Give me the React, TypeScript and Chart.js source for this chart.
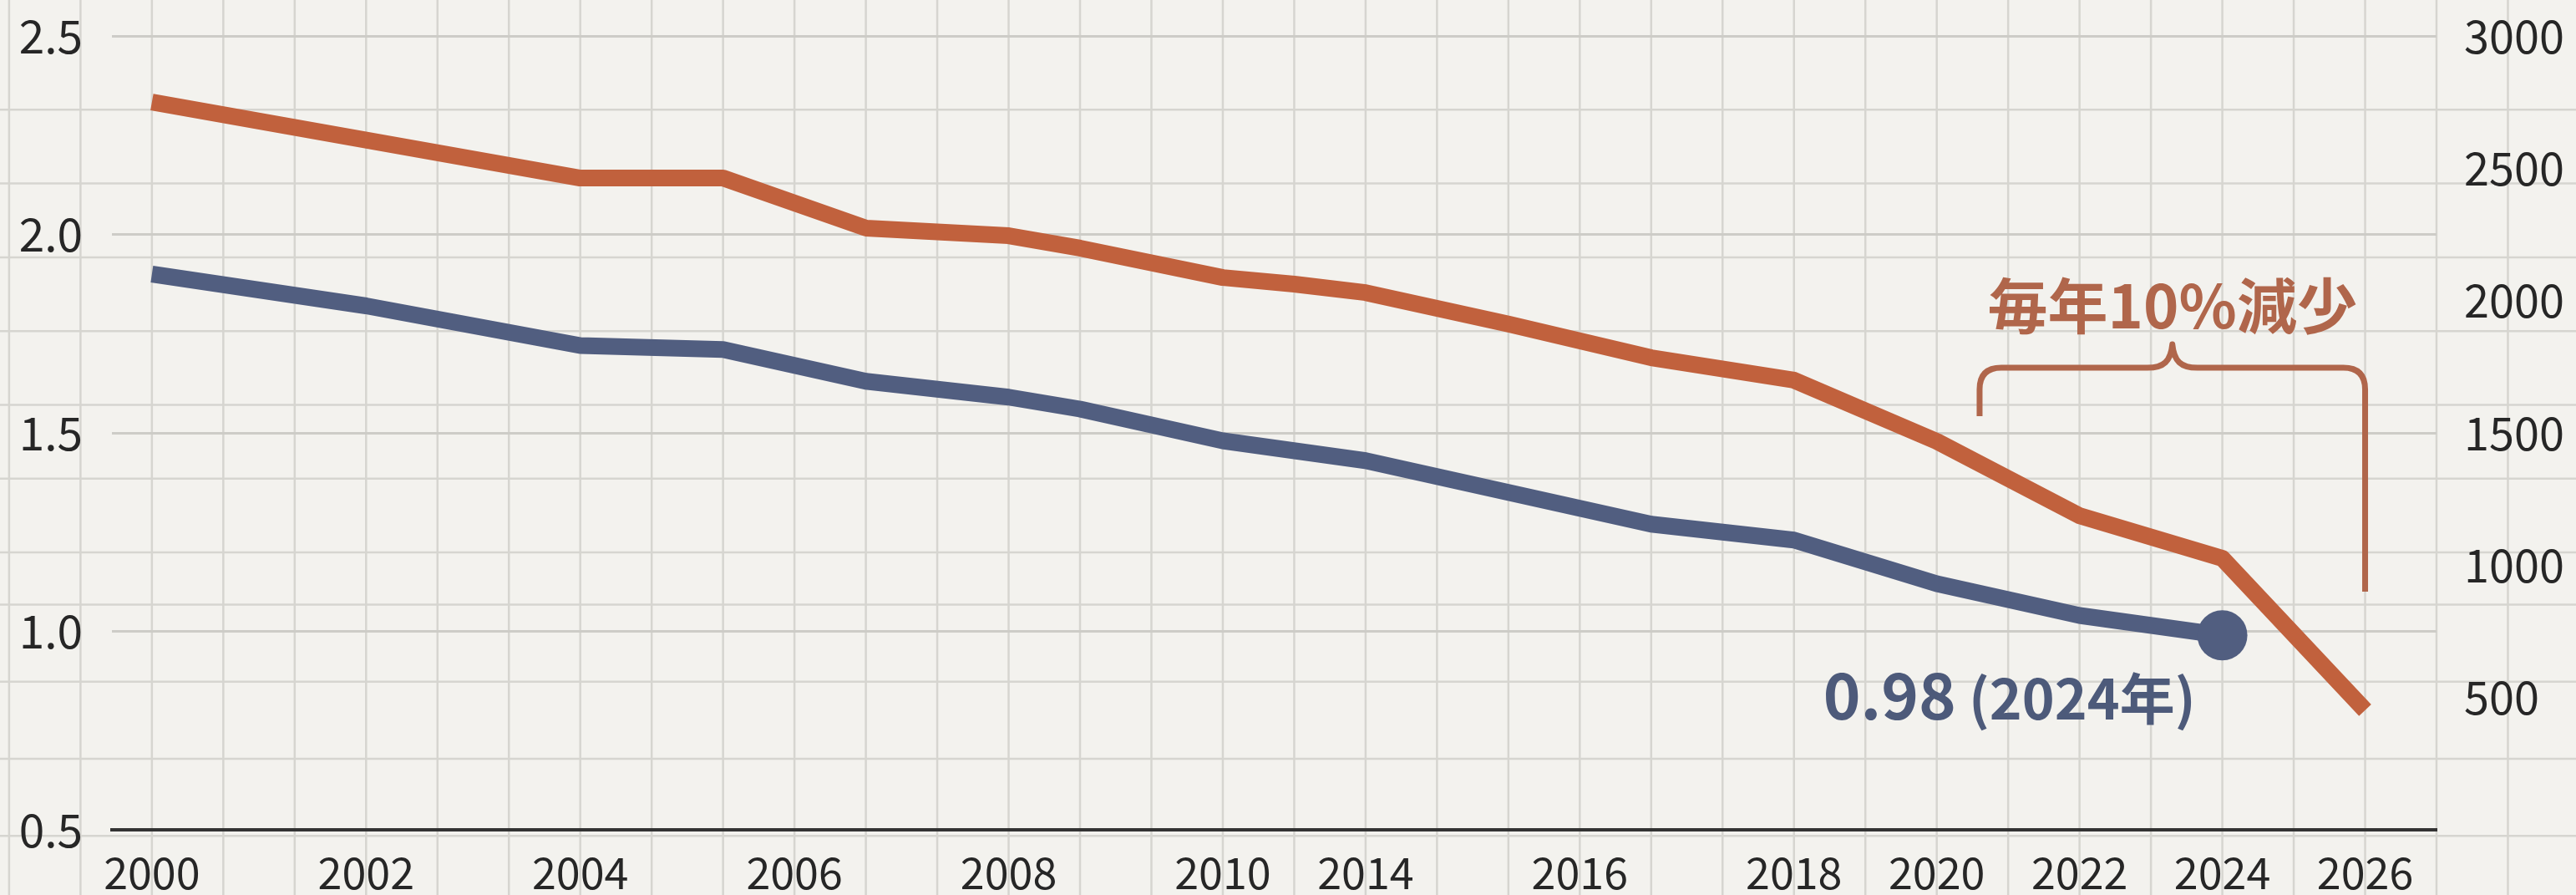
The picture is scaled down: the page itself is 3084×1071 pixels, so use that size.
import React, { useEffect, useRef } from 'react';
import { Chart, registerables } from 'chart.js';

Chart.register(...registerables);

// ---- Data ----
// x-axis: grid columns of the illustration; tick labels sit on some columns
const xTickLabels = ['2000', '2002', '2004', '2006', '2008', '2010', '2014', '2016', '2018', '2020', '2022', '2024', '2026'];
const xTickSlots = [0, 3, 6, 9, 12, 15, 17, 20, 23, 25, 27, 29, 31];

// orange series (right axis)
const countSlots = [0, 6, 8, 10, 12, 13, 15, 16, 17, 19, 21, 23, 25, 27, 29, 31];
const countValues = [2750, 2463, 2463, 2274, 2245, 2198, 2087, 2062, 2030, 1911, 1784, 1699, 1468, 1187, 1026, 452];

// blue series (left axis)
const rateSlots = [0, 3, 6, 8, 10, 12, 13, 15, 17, 19, 21, 23, 25, 27, 29];
const rateValues = [1.90, 1.82, 1.72, 1.71, 1.63, 1.59, 1.56, 1.48, 1.43, 1.35, 1.27, 1.23, 1.12, 1.04, 0.99];

const leftTicks = { min: 0.5, max: 2.5, step: 0.5 };
const rightTicks = { min: 0, max: 3000, step: 500 };

const rateLabelMain = '0.98';
const rateLabelSub = ' (2024年)';
const dropLabel = '毎年10%減少';
const braceFromSlot = 25.6;
const braceToSlot = 31;
const braceLevel = 1746;
const braceLeftEnd = 1563;
const braceRightEnd = 900;

const W = 3084;
const H = 1071;
const FONT = '"Noto Sans CJK JP", "Noto Sans", sans-serif';
const ORANGE = '#c1613d';
const BLUE = '#515e80';
const BRACE = '#b0664b';
const TEXT = '#262626';

const paperPlugin = {
  id: 'paper',
  beforeDraw(chart: any) {
    const { ctx } = chart;
    const xs = chart.scales.x;
    const ys = chart.scales.y;
    ctx.save();
    ctx.fillStyle = '#f3f2ee';
    ctx.fillRect(0, 0, W, H);
    ctx.strokeStyle = '#d6d5d0';
    ctx.lineWidth = 2.5;
    for (let k = -4; k <= 40; k++) {
      const x = xs.getPixelForValue(k);
      if (x < -5 || x > W + 5) continue;
      ctx.beginPath();
      ctx.moveTo(x, 0);
      ctx.lineTo(x, H);
      ctx.stroke();
    }
    const top = ys.getPixelForValue(leftTicks.max);
    const gap = (xs.getPixelForValue(1) - xs.getPixelForValue(0)) * 1.033;
    for (let j = 1; j <= 7; j++) {
      const y = top + gap * j;
      ctx.beginPath();
      ctx.moveTo(0, y);
      ctx.lineTo(W, y);
      ctx.stroke();
    }
    const y0 = ys.getPixelForValue(1.0) - 32;
    for (let j = 0; j <= 4; j++) {
      const y = y0 + gap * 1.045 * j;
      ctx.beginPath();
      ctx.moveTo(0, y);
      ctx.lineTo(W, y);
      ctx.stroke();
    }
    ctx.restore();
  },
};

const annotationPlugin = {
  id: 'annot',
  afterDatasetsDraw(chart: any) {
    const { ctx } = chart;
    const xs = chart.scales.x;
    const ys = chart.scales.y;
    const yr = chart.scales.y1;
    ctx.save();

    // blue value label
    const lastIdx = rateSlots.length - 1;
    const ax = xs.getPixelForValue(rateSlots[lastIdx]);
    const ay = ys.getPixelForValue(rateValues[lastIdx]);
    ctx.fillStyle = '#4d5a7a';
    ctx.textBaseline = 'alphabetic';
    ctx.textAlign = 'left';
    ctx.font = `bold 66px ${FONT}`;
    const subW = ctx.measureText(rateLabelSub).width;
    ctx.font = `bold 76px ${FONT}`;
    const mainW = ctx.measureText(rateLabelMain).width;
    const endX = ax - 32;
    const baseY = ay + 101;
    ctx.fillText(rateLabelMain, endX - subW - mainW, baseY);
    ctx.font = `bold 66px ${FONT}`;
    ctx.fillText(rateLabelSub, endX - subW, baseY);

    // brace
    const xl = xs.getPixelForValue(braceFromSlot);
    const xr = xs.getPixelForValue(braceToSlot);
    const xm = (xl + xr) / 2;
    const yL = yr.getPixelForValue(braceLevel);
    const yLB = yr.getPixelForValue(braceLeftEnd);
    const yRB = yr.getPixelForValue(braceRightEnd);
    const rad = 26;
    const tip = 28;
    ctx.strokeStyle = BRACE;
    ctx.lineWidth = 7;
    ctx.lineCap = 'butt';
    ctx.lineJoin = 'round';
    ctx.beginPath();
    ctx.moveTo(xl, yLB);
    ctx.lineTo(xl, yL + rad);
    ctx.quadraticCurveTo(xl, yL, xl + rad, yL);
    ctx.lineTo(xm - 30, yL);
    ctx.bezierCurveTo(xm - 10, yL, xm - 2, yL - 8, xm, yL - tip);
    ctx.bezierCurveTo(xm + 2, yL - 8, xm + 10, yL, xm + 30, yL);
    ctx.lineTo(xr - rad, yL);
    ctx.quadraticCurveTo(xr, yL, xr, yL + rad);
    ctx.lineTo(xr, yRB);
    ctx.stroke();

    ctx.fillStyle = BRACE;
    ctx.font = `bold 72px ${FONT}`;
    ctx.textAlign = 'center';
    ctx.textBaseline = 'alphabetic';
    ctx.fillText(dropLabel, xm, yL - 47);
    ctx.restore();
  },
};

const zeroPad = (s: any) => {
  s.paddingTop = 0;
  s.paddingBottom = 0;
  s.paddingLeft = 0;
  s.paddingRight = 0;
};

export default function App() {
  const ref = useRef<HTMLCanvasElement>(null);

  useEffect(() => {
    document.body.style.margin = '0';
    const canvas = ref.current;
    if (!canvas) return;
    const lastRate = rateSlots.length - 1;
    const chart = new Chart(canvas, {
      type: 'line',
      data: {
        datasets: [
          {
            label: 'count',
            data: countSlots.map((s, i) => ({ x: s, y: countValues[i] })),
            yAxisID: 'y1',
            borderColor: ORANGE,
            backgroundColor: ORANGE,
            borderWidth: 20,
            borderJoinStyle: 'round',
            borderCapStyle: 'butt',
            pointRadius: 0,
            tension: 0,
            fill: false,
          },
          {
            label: 'rate',
            data: rateSlots.map((s, i) => ({ x: s, y: rateValues[i] })),
            yAxisID: 'y',
            borderColor: BLUE,
            backgroundColor: BLUE,
            borderWidth: 20,
            borderJoinStyle: 'round',
            borderCapStyle: 'butt',
            pointRadius: (c: any) => (c.dataIndex === lastRate ? 30 : 0),
            pointBackgroundColor: BLUE,
            pointBorderWidth: 0,
            tension: 0,
            fill: false,
          },
        ],
      },
      options: {
        responsive: false,
        animation: false,
        devicePixelRatio: 1,
        events: [],
        layout: { padding: { top: 43, left: 0, right: 0, bottom: 0 } },
        plugins: {
          legend: { display: false },
          title: { display: false },
          tooltip: { enabled: false },
        },
        scales: {
          x: {
            type: 'linear',
            min: -0.56,
            max: 32,
            afterBuildTicks: (s: any) => {
              s.ticks = xTickSlots.map((v) => ({ value: v }));
            },
            afterFit: (s: any) => {
              s.height = 78;
              zeroPad(s);
            },
            ticks: {
              autoSkip: false,
              maxRotation: 0,
              padding: 20,
              color: TEXT,
              font: { family: FONT, size: 52 },
              callback: (v: any) => {
                const i = xTickSlots.indexOf(Number(v));
                return i >= 0 ? xTickLabels[i] : '';
              },
            },
            grid: { display: true, color: 'rgba(0,0,0,0)', drawTicks: false },
            border: { display: true, color: '#333333', width: 4 },
          },
          y: {
            type: 'linear',
            position: 'left',
            min: leftTicks.min,
            max: leftTicks.max,
            afterFit: (s: any) => {
              s.width = 134;
              zeroPad(s);
            },
            ticks: {
              stepSize: leftTicks.step,
              padding: 35,
              color: TEXT,
              font: { family: FONT, size: 55 },
              callback: (v: any) => Number(v).toFixed(1),
            },
            grid: { color: '#cdccc7', lineWidth: 3, drawTicks: false },
            border: { display: false },
          },
          y1: {
            type: 'linear',
            position: 'right',
            min: rightTicks.min,
            max: rightTicks.max,
            afterFit: (s: any) => {
              s.width = 167;
              zeroPad(s);
            },
            ticks: {
              stepSize: rightTicks.step,
              padding: 33,
              color: TEXT,
              font: { family: FONT, size: 54 },
              callback: (v: any) => (Number(v) === 0 ? '' : String(v)),
            },
            grid: { display: false, drawTicks: false },
            border: { display: false },
          },
        },
      },
      plugins: [paperPlugin, annotationPlugin],
    } as any);
    return () => chart.destroy();
  }, []);

  return (
    <div style={{ width: W, height: H }}>
      <canvas ref={ref} width={W} height={H} style={{ display: 'block', width: W, height: H }} />
    </div>
  );
}
